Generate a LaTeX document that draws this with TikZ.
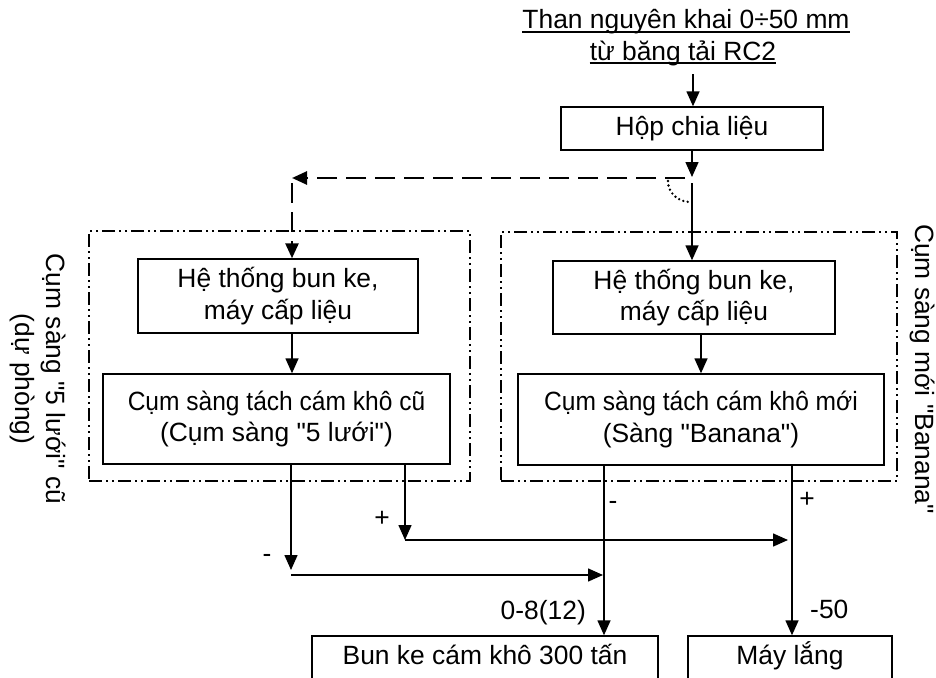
\documentclass[tikz,border=0pt]{standalone}
\usepackage{fontspec}
\setmainfont{Liberation Sans}[Ligatures=TeXOff]
\newfontfamily\condensed{Liberation Sans}[FakeStretch=0.93,Ligatures=TeXOff]
\usetikzlibrary{arrows.meta,calc}
\begin{document}
\begin{tikzpicture}[x=1pt,y=-1pt,
  every node/.style={font=\fontsize{26.4}{31.5}\selectfont, inner sep=0pt},
  box/.style={draw, line width=1.4pt, align=center},
  onebox/.style={box, text height=19pt, text depth=5.5pt},
  grp/.style={draw, line width=1.4pt, dash pattern=on 13pt off 4pt on 2pt off 4pt on 2pt off 4pt},
  arr/.style={line width=1.5pt, -{Triangle[length=15pt,width=13pt]}},
  darr/.style={line width=2.6pt, dash pattern=on 20pt off 9pt, -{Triangle[length=15pt,width=13pt]}},
  uline/.style={line width=1.4pt},
  lbl/.style={anchor=base}
]
\useasboundingbox (0,0) rectangle (936,677);

% title
\node[lbl] (ttl1) at (686,29) {Than nguyên khai 0÷50 mm};
\node[lbl] (ttl2) at (683,60) {từ băng tải RC2};
\draw[uline] ([yshift=-3pt]ttl1.base west) -- ([yshift=-3pt]ttl1.base east);
\draw[uline] ([yshift=-3pt]ttl2.base west) -- ([yshift=-3pt]ttl2.base east);

% groups
\node[grp, minimum width=381pt, minimum height=250pt] (lg) at (279.5,356) {};
\node[grp, minimum width=396pt, minimum height=249pt] (rg) at (699,356.5) {};
\node[rotate=-90, align=center] (lgl) at (38,379) {Cụm sàng "5 lưới" cũ\\(dự phòng)};
\node[rotate=-90] (rgl) at (922,369) {Cụm sàng mới "Banana"};

% boxes
\node[onebox, minimum width=262pt, minimum height=43pt] (hop) at (692,128.5) {Hộp chia liệu};
\node[box, minimum width=280pt, minimum height=74pt] (lb1) at (278,296) {Hệ thống bun ke,\\máy cấp liệu};
\node[box, minimum width=282pt, minimum height=73pt] (rb1) at (694,297.5) {Hệ thống bun ke,\\máy cấp liệu};
\node[box, minimum width=347pt, minimum height=90pt] (lb2) at (276.5,419) {{\condensed Cụm sàng tách cám khô cũ}\\(Cụm sàng "5 lưới")};
\node[box, minimum width=366pt, minimum height=91pt] (rb2) at (701,419.5) {{\condensed Cụm sàng tách cám khô mới}\\(Sàng "Banana")};
\node[onebox, minimum width=346pt, minimum height=43pt] (bun) at (485,657.5) {Bun ke cám khô 300 tấn};
\node[onebox, minimum width=204pt, minimum height=43pt] (may) at (790,657.5) {Máy lắng};

% coordinates
\coordinate (in) at (693,74);
\coordinate (split) at (692,177);
\coordinate (split2) at (692,183);
\coordinate (dstart) at (685,178);
\coordinate (corner) at (292,178);
\coordinate (lm) at (291,570);
\coordinate (lmh) at (291,575);
\coordinate (lp) at (405,540);
\coordinate (rm) at (604,575);
\coordinate (rp) at (792,540);

% top flow
\draw[arr] (in) -- (in |- hop.north);
\draw[arr] (hop.south) -- (split);
\draw[arr] (split2) -- (split2 |- rb1.north);
\draw[darr] (dstart) -- (corner);
\draw[darr] ([yshift=-5pt]corner) -- (corner |- lb1.north);
\draw[line width=2.6pt, dash pattern=on 0pt off 4.5pt, line cap=round]
  (668,181) .. controls (668,193) and (678,202) .. (690,202);

% inside groups
\draw[arr] (lb1.south -| corner) -- (lb2.north -| corner);
\draw[arr] (rb1.south -| rb2.north) -- (rb2.north);

% outputs
\draw[arr] (lb2.south -| lm) -- (lm);
\draw[arr] (lb2.south -| lp) -- (lp);
\draw[arr] (lp) -- ([xshift=-4pt]rp);
\draw[arr] (lmh) -- ([xshift=-1pt]rm);
\draw[arr] (rb2.south -| rm) -- (bun.north -| rm);
\draw[arr] (rb2.south -| rp) -- (may.north -| rp);

% labels
\node (pl) at (382,519) {+};
\node (ml) at (267,558) {-};
\node (mr) at (613,505) {-};
\node (pr) at (807,500) {+};
\node[anchor=base east] (fine) at (586,619) {0-8(12)};
\node[anchor=base west] (coarse) at (810,618) {-50};
\end{tikzpicture}
\end{document}
